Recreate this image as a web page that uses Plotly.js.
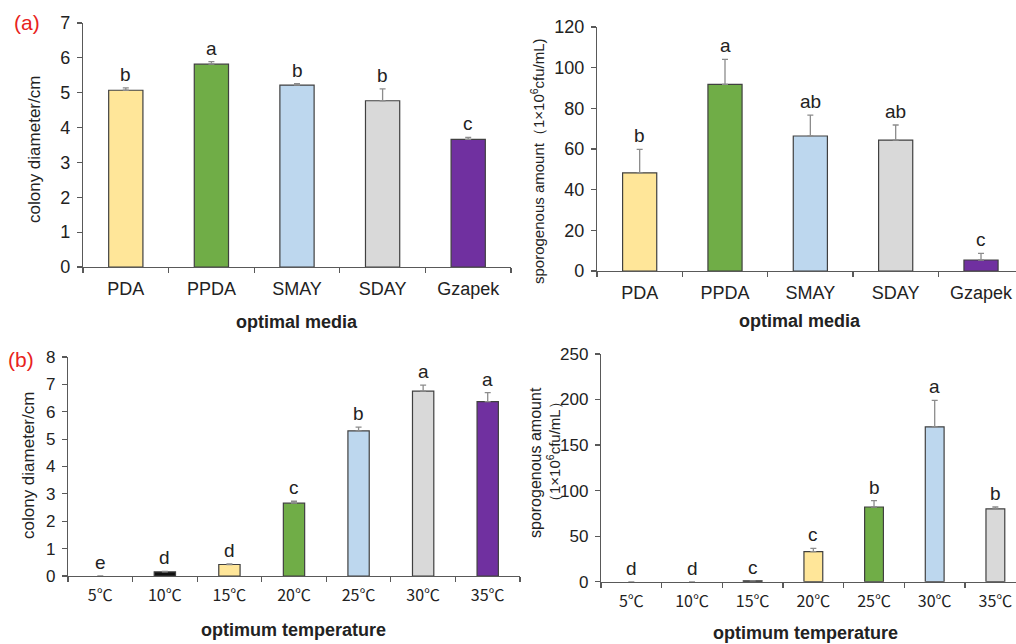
<!DOCTYPE html>
<html><head><meta charset="utf-8">
<script src="https://cdn.plot.ly/plotly-3.0.1.min.js"></script>
<style>html,body{margin:0;padding:0;background:#fff;overflow:hidden}#chart{width:1016px;height:644px}</style>
</head><body><div id="chart"></div>
<script>
// ---- data ----
const mediaCats = ['PDA', 'PPDA', 'SMAY', 'SDAY', 'Gzapek'];
const mediaDiameter = [5.07, 5.82, 5.22, 4.77, 3.66];
const mediaDiameterErr = [0.07, 0.07, 0.04, 0.34, 0.06];
const mediaDiameterLetters = ['b', 'a', 'b', 'b', 'c'];
const mediaSpores = [48.3, 91.8, 66.4, 64.4, 5.4];
const mediaSporesErr = [11.5, 12.3, 10.3, 7.4, 3.3];
const mediaSporesLetters = ['b', 'a', 'ab', 'ab', 'c'];

const tempCats = ['5℃', '10℃', '15℃', '20℃', '25℃', '30℃', '35℃'];
const tempDiameter = [0, 0.15, 0.42, 2.66, 5.3, 6.75, 6.37];
const tempDiameterErr = [0, 0.02, 0.02, 0.07, 0.14, 0.22, 0.33];
const tempDiameterLetters = ['e', 'd', 'd', 'c', 'b', 'a', 'a'];
const tempSpores = [0, 0, 1, 33, 82, 170, 80];
const tempSporesErr = [0, 0, 0, 3.5, 7, 29, 2];
const tempSporesLetters = ['d', 'd', 'c', 'c', 'b', 'a', 'b'];

// ---- styles ----
const YEL = '#FFE699', GRN = '#70AD47', BLU = '#BDD7EE', GRY = '#D9D9D9', PUR = '#7030A0', BLK = '#111111';
const mediaColors = [YEL, GRN, BLU, GRY, PUR];
const tempDiameterColors = [BLK, BLK, YEL, GRN, BLU, GRY, PUR];
const tempSporesColors = [BLK, BLK, BLK, YEL, GRN, BLU, GRY];
const AX = '#595959';
const FONT = 'Liberation Sans, Arial, sans-serif';

function barTrace(cats, vals, errs, colors, xa, ya, w) {
  return {
    type: 'bar', x: cats, y: vals, xaxis: xa, yaxis: ya, width: w,
    marker: {color: colors, line: {color: '#404040', width: vals.map(v => v > 0 ? 1.2 : 0)}},
    error_y: {type: 'data', symmetric: false, array: errs.map(e => e > 0 ? e : null),
      arrayminus: errs.map(e => e > 0 ? 0 : null),
      color: '#8c8c8c', thickness: 1.3, width: 3, visible: true},
    hoverinfo: 'none', showlegend: false
  };
}

const data = [
  barTrace(mediaCats, mediaDiameter, mediaDiameterErr, mediaColors, 'x', 'y', 0.4),
  barTrace(mediaCats, mediaSpores, mediaSporesErr, mediaColors, 'x2', 'y2', 0.4),
  barTrace(tempCats, tempDiameter, tempDiameterErr, tempDiameterColors, 'x3', 'y3', 0.33),
  barTrace(tempCats, tempSpores, tempSporesErr, tempSporesColors, 'x4', 'y4', 0.31)
];

function xAx(domain, range, anchor, size, family) {
  return {domain: domain, range: range, anchor: anchor, type: 'category',
    showline: true, linecolor: AX, linewidth: 1.2, ticks: 'outside', ticklen: 5, tickcolor: AX,
    tickwidth: 1.2, tickson: 'boundaries', showgrid: false, zeroline: false, fixedrange: true,
    ticklabelstandoff: 5, tickfont: {family: family || FONT, size: size, color: '#222'}};
}
function yAx(domain, range, dtick, anchor, size) {
  return {domain: domain, range: range, dtick: dtick, anchor: anchor,
    showline: true, linecolor: AX, linewidth: 1.2, ticks: 'outside', ticklen: 5, tickcolor: AX,
    tickwidth: 1.2, showgrid: false, zeroline: false, fixedrange: true,
    ticklabelstandoff: 3, tickfont: {family: FONT, size: size, color: '#222'}};
}

const annotations = [];
function letters(cats, vals, errs, labs, xr, yr) {
  cats.forEach((c, i) => annotations.push({
    x: c, y: vals[i] + errs[i], xref: xr, yref: yr, text: labs[i], showarrow: false,
    yanchor: 'bottom', yshift: 1, font: {family: FONT, size: 19, color: '#222'}
  }));
}
letters(mediaCats, mediaDiameter, mediaDiameterErr, mediaDiameterLetters, 'x', 'y');
letters(mediaCats, mediaSpores, mediaSporesErr, mediaSporesLetters, 'x2', 'y2');
letters(tempCats, tempDiameter, tempDiameterErr, tempDiameterLetters, 'x3', 'y3');
letters(tempCats, tempSpores, tempSporesErr, tempSporesLetters, 'x4', 'y4');

function paperText(text, px, py, size, opts) {
  annotations.push(Object.assign({
    text: text, xref: 'paper', yref: 'paper', x: px / 1016, y: 1 - py / 644,
    xanchor: 'center', yanchor: 'middle', showarrow: false,
    font: {family: FONT, size: size, color: '#222'}
  }, opts || {}));
}
paperText('(a)', 27, 22, 21, {font: {family: FONT, size: 21, color: '#e8231c'}});
paperText('(b)', 21, 359, 21, {font: {family: FONT, size: 21, color: '#e8231c'}});
paperText('<b>optimal media</b>', 297, 322, 18);
paperText('<b>optimal media</b>', 800, 321, 18);
paperText('<b>optimum temperature</b>', 293, 630, 18);
paperText('<b>optimum temperature</b>', 805, 633, 18);
paperText('colony diameter/cm', 34, 150, 17, {textangle: -90});
paperText('colony diameter/cm', 28, 466, 17, {textangle: -90});
paperText('sporogenous amount（1×10<sup>6</sup>cfu/mL)', 537, 161, 15, {textangle: -90});
paperText('sporogenous amount', 535, 463, 16, {textangle: -90});
paperText('（1×10<sup>6</sup>cfu/mL）', 553, 452, 15, {textangle: -90});

const layout = {
  width: 1016, height: 644, margin: {l: 0, r: 0, t: 0, b: 0},
  paper_bgcolor: '#fff', plot_bgcolor: '#fff', bargap: 0.6,
  xaxis: xAx([83 / 1016, 511 / 1016], [-0.5, 4.5], 'y', 18),
  yaxis: yAx([1 - 267 / 644, 1 - 23 / 644], [0, 7], 1, 'x', 18),
  xaxis2: xAx([597 / 1016, 1], [-0.5, 4.41], 'y2', 18),
  yaxis2: yAx([1 - 271 / 644, 1 - 27 / 644], [0, 120], 20, 'x2', 18),
  xaxis3: xAx([68 / 1016, 520 / 1016], [-0.5, 6.5], 'y3', 16, 'Noto Sans CJK SC, sans-serif'),
  yaxis3: yAx([1 - 576 / 644, 1 - 357 / 644], [0, 8], 1, 'x3', 17),
  xaxis4: xAx([601 / 1016, 1], [-0.5, 6.34], 'y4', 16, 'Noto Sans CJK SC, sans-serif'),
  yaxis4: yAx([1 - 581.7 / 644, 1 - 354 / 644], [0, 250], 50, 'x4', 17),
  annotations: annotations
};

Plotly.newPlot('chart', data, layout, {displayModeBar: false, staticPlot: true});
</script></body></html>
